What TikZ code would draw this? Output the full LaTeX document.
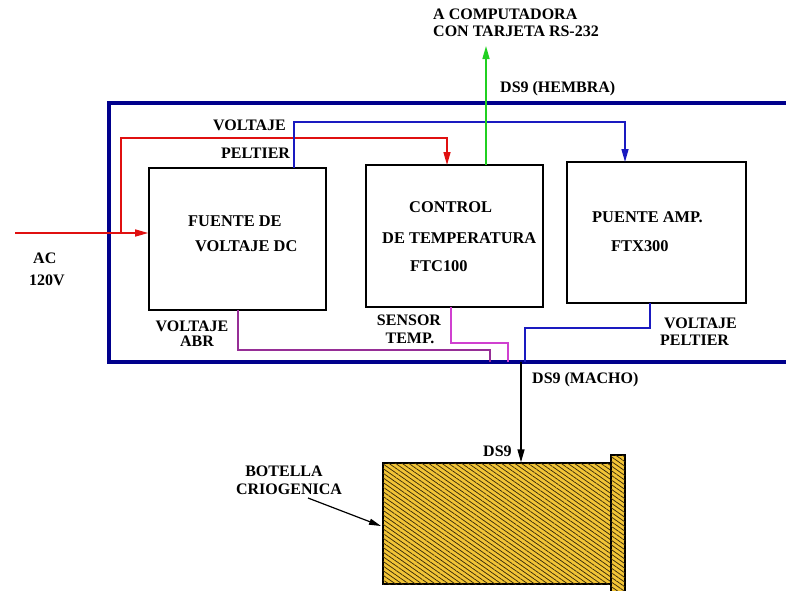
\documentclass[tikz,border=0pt]{standalone}
\usepackage{fontspec}
\setmainfont{Liberation Serif}
\usetikzlibrary{arrows.meta,patterns.meta}
\definecolor{navy}{HTML}{00008C}
\definecolor{linkblue}{HTML}{1A1AC0}
\definecolor{linkred}{HTML}{E01010}
\definecolor{linkgreen}{HTML}{20D020}
\definecolor{brightpink}{HTML}{D040D0}
\definecolor{purp}{HTML}{962E96}
\definecolor{gold}{HTML}{F2C436}
\definecolor{hatch}{HTML}{3A2C0A}
\begin{document}
\begin{tikzpicture}[x=1pt,y=-1pt,
  lbl/.style={font=\bfseries\fontsize{16}{16}\selectfont, inner sep=0pt, anchor=west},
  boxtxt/.style={font=\bfseries\fontsize{16.4}{16.4}\selectfont, inner sep=0pt, anchor=west},
  blk/.style={draw=black, line width=1.6pt, inner sep=0pt},
  arr/.style={-{Triangle[length=13pt,width=7pt]}},
  wire/.style={line width=1.5pt},
  hatched/.style={draw=black, line width=1.4pt, fill=gold, inner sep=0pt,
    postaction={pattern={Lines[angle=-35,distance=3.8pt,line width=0.75pt]}, pattern color=hatch}}
]
\useasboundingbox (0,0) rectangle (786,590);

% outer enclosure
\draw[navy, line width=3.5pt] (790,103) -- (109,103) -- (109,362) -- (790,362);

% boxes
\node[blk, minimum width=177pt, minimum height=142pt] (fuente) at (237.5,239) {};
\node[blk, minimum width=177pt, minimum height=142pt] (control) at (454.5,236) {};
\node[blk, minimum width=179pt, minimum height=141pt] (puente) at (656.5,232.5) {};

% box texts
\node[boxtxt] (t1) at (188,221) {FUENTE DE};
\node[boxtxt] (t2) at (195,246) {VOLTAJE DC};
\node[boxtxt] (t3) at (409,207) {CONTROL};
\node[boxtxt] (t4) at (382,238) {DE TEMPERATURA};
\node[boxtxt] (t5) at (410,266) {FTC100};
\node[boxtxt] (t6) at (592,217) {PUENTE AMP.};
\node[boxtxt] (t7) at (611,246) {FTX300};

% coordinates
\coordinate (acin) at (15,233);
\coordinate (rsplit) at (121,233);
\coordinate (rtop) at (121,138);
\coordinate (rtopr) at (447,138);
\coordinate (ctrlin) at (447,165);
\coordinate (fuenteout) at (294,168);
\coordinate (btop) at (294,122);
\coordinate (btopr) at (625,122);
\coordinate (puentein) at (625,162);
\coordinate (greenbot) at (486,165);
\coordinate (greentop) at (486,46);

% red AC and voltage lines
\draw[linkred, wire, arr] (acin) -- (fuente.west |- acin);
\draw[linkred, wire, arr] (rsplit) -- (rtop) -- (rtopr) -- (ctrlin);
% blue peltier line
\draw[linkblue, wire, arr] (fuenteout) -- (btop) -- (btopr) -- (puentein);
% green line to computer
\draw[linkgreen, wire, arr] (greenbot) -- (greentop);

% bottom wires
\coordinate (abr1) at (238,310);
\coordinate (abr2) at (238,350);
\coordinate (abr3) at (490,350);
\coordinate (abr4) at (490,362);
\draw[purp, wire] (abr1) -- (abr2) -- (abr3) -- (abr4);
\coordinate (sen1) at (451,307);
\coordinate (sen2) at (451,343);
\coordinate (sen3) at (508,343);
\coordinate (sen4) at (508,362);
\draw[brightpink, wire] (sen1) -- (sen2) -- (sen3) -- (sen4);
\coordinate (pel1) at (650,303);
\coordinate (pel2) at (650,328);
\coordinate (pel3) at (525,328);
\coordinate (pel4) at (525,362);
\draw[linkblue, wire] (pel1) -- (pel2) -- (pel3) -- (pel4);

% bottle
\node[hatched, minimum width=228pt, minimum height=121pt] (bottle) at (497,523.5) {};
\node[hatched, minimum width=14pt, minimum height=137pt] (flange) at (618,523.5) {};

\coordinate (ds9top) at (521,362);
\draw[black, line width=1.4pt, arr] (ds9top) -- (ds9top |- bottle.north);

\coordinate (botstart) at (308,498);
\coordinate (botend) at (381,526);
\draw[black, line width=1.2pt, -{Triangle[length=12pt,width=6pt]}] (botstart) -- (botend);

% labels
\node[lbl] (l1) at (433,14) {A COMPUTADORA};
\node[lbl] (l2) at (433,31) {CON TARJETA RS-232};
\node[lbl] (l3) at (500,89) {DS9 (HEMBRA)};
\node[lbl] (l4) at (213,125) {VOLTAJE};
\node[lbl] (l5) at (221,153) {PELTIER};
\node[lbl] (l6) at (33,258) {AC};
\node[lbl] (l7) at (29,280) {120V};
\node[lbl, anchor=center] (l8) at (192,326) {VOLTAJE};
\node[lbl, anchor=center] (l9) at (197,341) {ABR};
\node[lbl, anchor=center] (l10) at (409,320) {SENSOR};
\node[lbl, anchor=center] (l11) at (410,338) {TEMP.};
\node[lbl] (l12) at (664,323) {VOLTAJE};
\node[lbl] (l13) at (660,340) {PELTIER};
\node[lbl] (l14) at (532,380) {DS9 (MACHO)};
\node[lbl] (l15) at (483,451) {DS9};
\node[lbl, anchor=center] (l16) at (284,471) {BOTELLA};
\node[lbl, anchor=center] (l17) at (289,489) {CRIOGENICA};
\end{tikzpicture}
\end{document}
